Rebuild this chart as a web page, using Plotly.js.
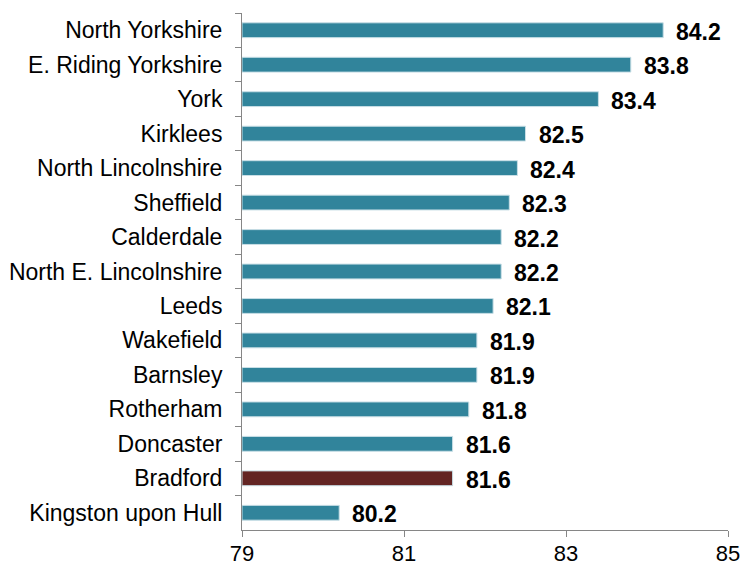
<!DOCTYPE html>
<html>
<head>
<meta charset="utf-8">
<script src="https://cdn.plot.ly/plotly-3.0.1.min.js"></script>
<style>html,body{margin:0;padding:0;background:#fff;}#chart{width:744px;height:568px;}</style>
</head>
<body>
<div id="chart"></div>
<script>
// Data (top to bottom as shown)
const areas = ["North Yorkshire","E. Riding Yorkshire","York","Kirklees","North Lincolnshire","Sheffield","Calderdale","North E. Lincolnshire","Leeds","Wakefield","Barnsley","Rotherham","Doncaster","Bradford","Kingston upon Hull"];
const values = [84.2,83.8,83.4,82.5,82.4,82.3,82.2,82.2,82.1,81.9,81.9,81.8,81.6,81.6,80.2];
const highlight = "Bradford";
const xTicks = [79,81,83,85];

const teal = "#31849B", maroon = "#632523";
const colors = areas.map(a => a === highlight ? maroon : teal);

const trace = {
  type: "bar",
  orientation: "h",
  y: areas,
  x: values.map(v => v - 79),
  base: 79,
  width: 0.43,
  marker: {color: colors, line: {color: "#c9dfe6", width: 1}},
  hoverinfo: "skip"
};

const annotations = areas.map((a, i) => ({
  x: values[i], y: a, xref: "x", yref: "y",
  text: values[i].toFixed(1), showarrow: false,
  xanchor: "left", yanchor: "middle", xshift: 11, yshift: -1.5,
  font: {family: "Liberation Sans, Arial, sans-serif", size: 23, color: "#000", weight: "bold"}
}));

const layout = {
  width: 744, height: 568,
  margin: {l: 242, r: 16, t: 13, b: 38},
  paper_bgcolor: "#fff", plot_bgcolor: "#fff",
  showlegend: false,
  bargap: 0,
  font: {family: "Liberation Sans, Arial, sans-serif", size: 23, color: "#000"},
  xaxis: {
    range: [79, 85], tickvals: xTicks, ticktext: xTicks.map(String),
    showgrid: false, zeroline: false, showline: true, linecolor: "#868686", linewidth: 1,
    ticks: "outside", ticklen: 6, tickcolor: "#868686",
    ticklabelstandoff: -2,
    tickfont: {size: 22}, fixedrange: true
  },
  yaxis: {
    type: "category", autorange: "reversed",
    categoryorder: "array", categoryarray: areas,
    showgrid: false, zeroline: false, showline: true, linecolor: "#868686", linewidth: 1,
    ticks: "outside", ticklen: 6, tickcolor: "#868686", tickson: "boundaries",
    ticklabelstandoff: 14,
    tickfont: {size: 23}, fixedrange: true
  },
  annotations: annotations
};

Plotly.newPlot("chart", [trace], layout, {displayModeBar: false, staticPlot: true});
</script>
</body>
</html>
